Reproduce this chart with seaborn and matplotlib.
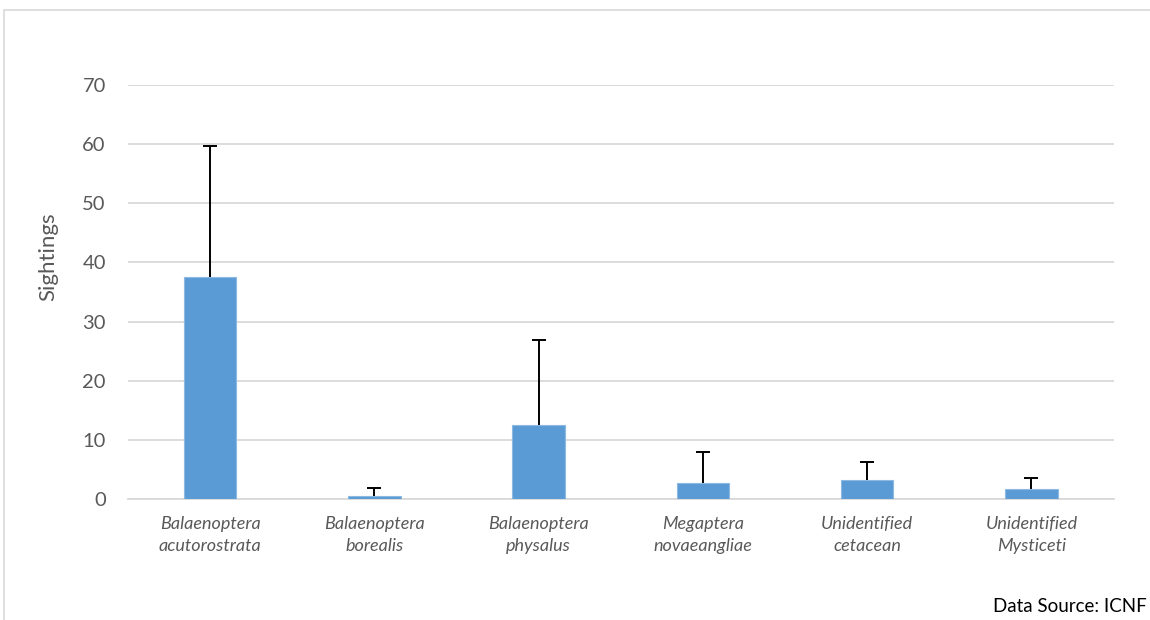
import matplotlib
matplotlib.use("Agg")
import matplotlib.pyplot as plt
import seaborn as sns
import numpy as np
import pandas as pd
from matplotlib.patches import Rectangle

species = [
    "Balaenoptera\nacutorostrata",
    "Balaenoptera\nborealis",
    "Balaenoptera\nphysalus",
    "Megaptera\nnovaeangliae",
    "Unidentified\ncetacean",
    "Unidentified\nMysticeti",
]
sightings = [37.6, 0.6, 12.6, 2.65, 3.15, 1.7]
upper_error = [22.0, 1.3, 14.3, 5.25, 3.05, 1.95]
y_ticks = [0, 10, 20, 30, 40, 50, 60, 70]

df = pd.DataFrame({"species": species, "sightings": sightings})

sns.set_theme(style="white")
plt.rcParams["font.family"] = ["Lato", "DejaVu Sans"]

fig = plt.figure(figsize=(11.5, 6.2), dpi=100)
ax = fig.add_axes([0.1113, 0.195, 0.857, 0.668])

# Light frame around the chart area
fig.patches.append(Rectangle((0.0035, -0.05), 1.2, 1.034, transform=fig.transFigure,
                             fill=False, edgecolor="#d9d9d9", linewidth=1.2, zorder=0))

sns.barplot(data=df, x="species", y="sightings", color="#5B9BD5", width=0.32,
            saturation=1, errorbar=None, ax=ax, zorder=3,
            edgecolor="#8DB8E2", linewidth=0.8)

# Upper-only error bars
xs = np.arange(len(species))
eb = ax.errorbar(xs, sightings, yerr=[np.zeros(len(species)), upper_error], fmt="none",
                 ecolor="black", elinewidth=1.4, capsize=5, capthick=1.4, zorder=4)
caplines = eb[1]
if len(caplines) == 2:
    caplines[0].set_visible(False)

ax.set_ylim(0, 70)
ax.set_yticks(y_ticks)
ax.set_yticklabels([str(t) for t in y_ticks])
ax.set_xlim(-0.5, len(species) - 0.5)
ax.yaxis.grid(True, color="#d9d9d9", linewidth=1.3, zorder=0)
ax.set_axisbelow(True)
for side in ["top", "right", "left"]:
    ax.spines[side].set_visible(False)
ax.spines["bottom"].set_color("#d9d9d9")
ax.spines["bottom"].set_linewidth(1.3)

ax.tick_params(axis="y", length=0, labelsize=14.5, labelcolor="#595959", pad=16)
ax.tick_params(axis="x", length=0, labelsize=13, labelcolor="#595959", pad=12)
for lbl in ax.get_xticklabels():
    lbl.set_fontstyle("italic")
    lbl.set_linespacing(1.5)

ax.set_xlabel("")
ax.set_ylabel("Sightings", fontsize=16, color="#595959")
ax.yaxis.set_label_coords(-0.071, 0.585)

fig.text(0.997, 0.008, "Data Source: ICNF", ha="right", va="bottom", fontsize=13.5, color="black")

fig.savefig("out.png", dpi=100, facecolor="white")
